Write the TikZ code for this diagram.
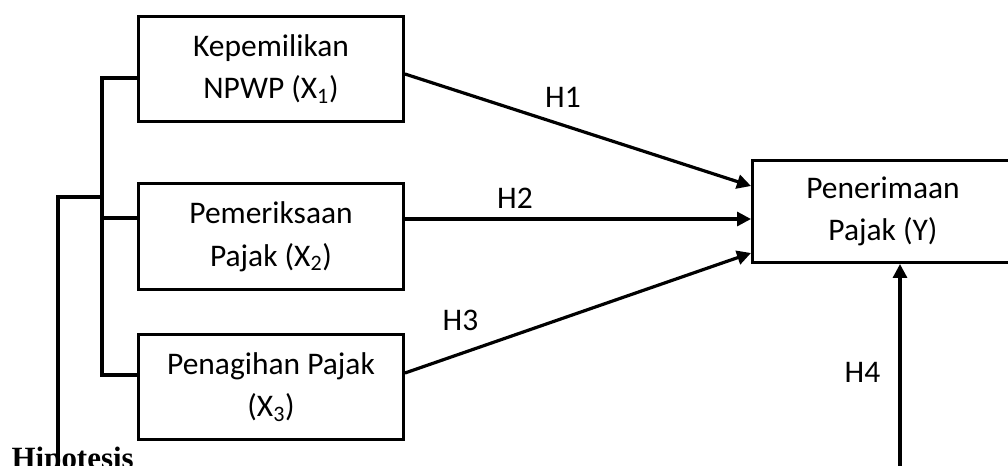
\documentclass[tikz,border=0pt]{standalone}
\usepackage{fontspec}
\setmainfont{Carlito}
\newfontfamily\headfont{Liberation Serif}
\usetikzlibrary{arrows.meta,calc}

\begin{document}
\begin{tikzpicture}[x=0.75pt,y=-0.75pt,
  line width=2.5pt,
  varbox/.style={draw, line width=2.6pt, minimum width=264.5*0.75pt,
    minimum height=104.5*0.75pt, align=center, inner sep=0pt,
    font=\fontsize{23.6pt}{31.9pt}\selectfont},
  link/.style={-{Triangle[length=10.5pt,width=10.5pt]}, line width=2.4pt},
  hlabel/.style={inner sep=0pt, font=\fontsize{23.6pt}{28pt}\selectfont},
  bracket/.style={line width=2.6pt}]

\useasboundingbox (0,0) rectangle (1008,465);
\fill[white] (0,0) rectangle (1008,465);
\clip (0,0) rectangle (1008,465);

% heading, partly below the lower edge
\node[anchor=base west, inner sep=0pt,
  font=\headfont\bfseries\fontsize{23.2pt}{28pt}\selectfont] (hip) at (10,468) {Hipotesis};

% independent variables
\node[varbox] (b1) at (271,69) {Kepemilikan\\NPWP (X\textsubscript{1})};
\node[varbox, minimum height=105.5*0.75pt] (b2) at (271,236.5) {Pemeriksaan\\Pajak (X\textsubscript{2})};
\node[varbox] (b3) at (271,387) {Penagihan Pajak\\(X\textsubscript{3})};

% dependent variable
\node[varbox, minimum width=260.5*0.75pt, minimum height=101.5*0.75pt] (r) at (883,211.5)
  {Penerimaan\\Pajak (Y)};

% bracket joining the three independent variables
\draw[bracket] ([yshift=-6.75pt]b1.west) -- ++(-35,0) |- ([yshift=9pt]b3.west);
\draw[bracket] ([yshift=13.875pt]b2.west) -- ++(-35,0);
\coordinate (jn) at (102,197);
\coordinate (lowleft) at (58,470);
\draw[bracket] (lowleft) |- (jn);

% partial hypotheses
\draw[link] ([yshift=-3.75pt]b1.east) -- ([yshift=19.125pt]r.west);
\draw[link] ([yshift=13.125pt]b2.east) -- ([yshift=-5.625pt]r.west);
\draw[link] ([yshift=10.5pt]b3.east) -- ([yshift=-31.125pt]r.west);

% simultaneous hypothesis
\coordinate (lowright) at (900,470);
\draw[link] (lowright) -- (lowright |- r.south);

% labels
\node[hlabel] (h1) at (563,97) {H1};
\node[hlabel] (h2) at (515,198) {H2};
\node[hlabel] (h3) at (460.5,320.5) {H3};
\node[hlabel] (h4) at (862.5,372) {H4};
\end{tikzpicture}
\end{document}
